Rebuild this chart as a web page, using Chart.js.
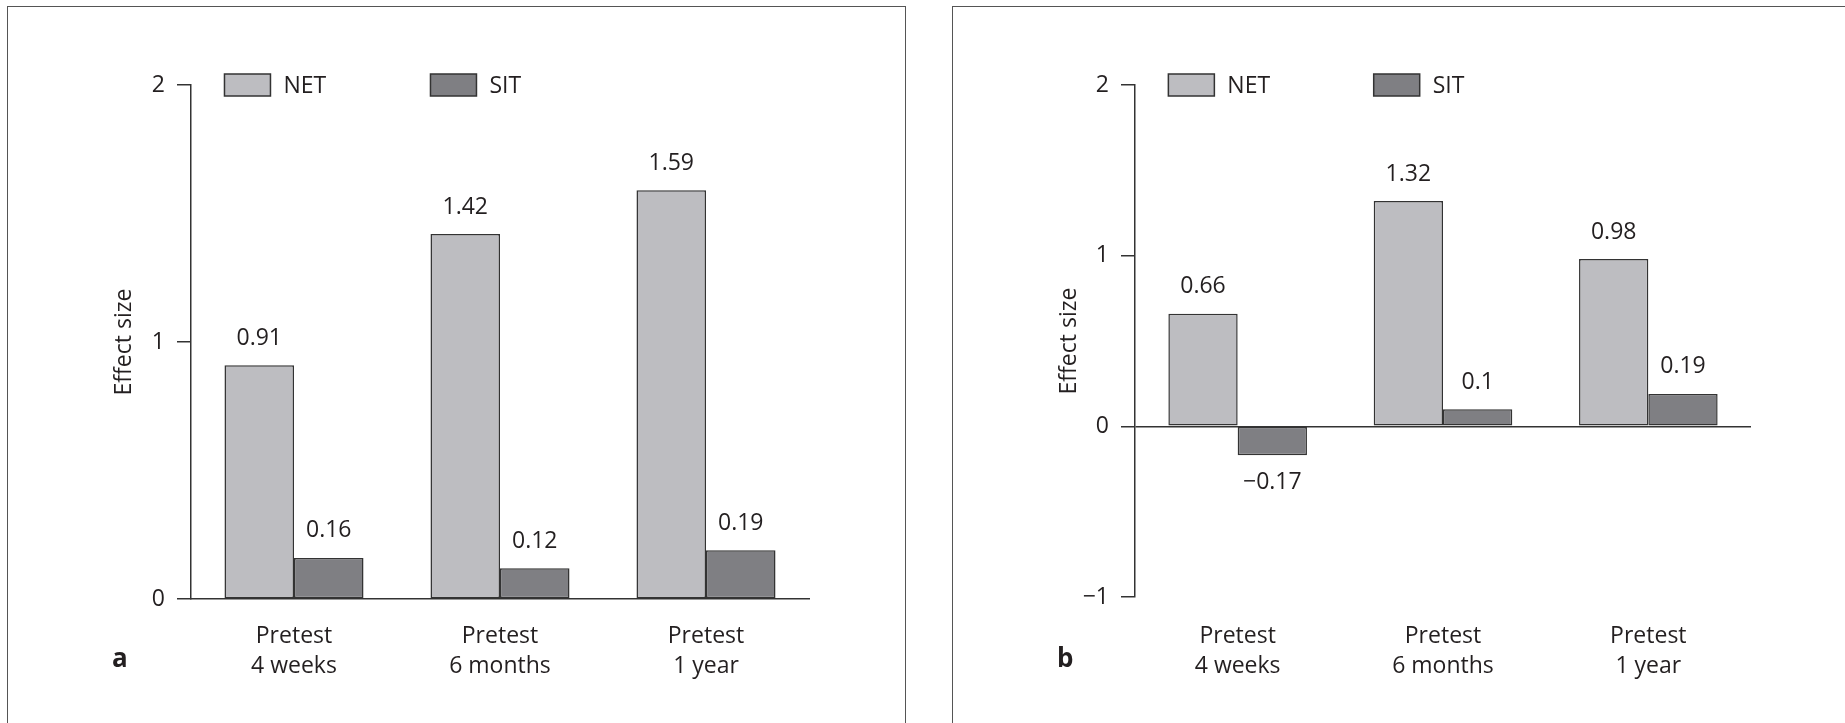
<!DOCTYPE html>
<html>
<head>
<meta charset="utf-8">
<script src="https://cdn.jsdelivr.net/npm/chart.js@4"></script>
<style>
  html, body { margin: 0; padding: 0; background: #fff; overflow: hidden; }
  body { width: 1845px; height: 723px; position: relative; }
  .frame { position: absolute; top: 6px; height: 800px; border: 1.5px solid #555; box-sizing: border-box; }
  canvas { position: absolute; top: 0; }
</style>
</head>
<body>
<div class="frame" style="left:7px; width:899px;"></div>
<div class="frame" style="left:952px; width:1000px;"></div>
<canvas id="chartA" width="925" height="723" style="left:0"></canvas>
<canvas id="chartB" width="920" height="723" style="left:925px"></canvas>
<script>
// Data
const categories = [["Pretest", "4 weeks"], ["Pretest", "6 months"], ["Pretest", "1 year"]];
const seriesNames = ["NET", "SIT"];
const netA = [0.91, 1.42, 1.59];
const sitA = [0.16, 0.12, 0.19];
const netB = [0.66, 1.32, 0.98];
const sitB = [-0.17, 0.10, 0.19];
const rangeA = [0, 2];
const rangeB = [-1, 2];

const FONT = "'Open Sans', 'Noto Sans', sans-serif";
const INK = "#231f20";
const NET_FILL = "#bdbdc1";
const SIT_FILL = "#7f7f83";
const EDGE = "#333333";

function fmt(v) {
    return v < 0 ? "\u2212" + String(Math.abs(v)) : String(v);
}

// Draws value labels, the legend row and the panel letter
const extras = {
    id: "extras",
    afterDatasetsDraw(chart, args, opts) {
        const ctx = chart.ctx;
        ctx.save();
        ctx.fillStyle = INK;
        ctx.font = "23px " + FONT;
        ctx.textAlign = "center";
        ctx.textBaseline = "middle";
        chart.data.datasets.forEach((ds, i) => {
            chart.getDatasetMeta(i).data.forEach((bar, j) => {
                const v = ds.data[j];
                const y = v >= 0 ? bar.y - 27 : bar.y + 27;
                ctx.fillText(fmt(v), bar.x, y);
            });
        });

        // legend: each swatch sits over the left edge of a NET bar
        const top = chart.chartArea.top;
        const netBars = chart.getDatasetMeta(0).data;
        chart.data.datasets.forEach((ds, i) => {
            const bar = netBars[i];
            const x = bar.x - bar.width / 2;
            ctx.fillStyle = ds.backgroundColor;
            ctx.fillRect(x, top - 11, 46, 22);
            ctx.strokeStyle = EDGE;
            ctx.lineWidth = 1.5;
            ctx.strokeRect(x, top - 11, 46, 22);
            ctx.fillStyle = INK;
            ctx.textAlign = "left";
            ctx.fillText(ds.label, x + 59, top + 1);
        });

        ctx.font = "bold 26px " + FONT;
        ctx.textBaseline = "alphabetic";
        ctx.fillText(opts.letter, opts.letterX, 667);
        ctx.restore();
    }
};

function makeChart(id, net, sit, range, cfg) {
    const zeroLine = cfg.zeroLine;
    return new Chart(document.getElementById(id), {
        type: "bar",
        data: {
            labels: categories,
            datasets: [
                { label: seriesNames[0], data: net, backgroundColor: NET_FILL },
                { label: seriesNames[1], data: sit, backgroundColor: SIT_FILL }
            ]
        },
        options: {
            responsive: false,
            animation: false,
            devicePixelRatio: 1,
            layout: { padding: { top: 85, right: cfg.padRight, bottom: 0, left: 0 } },
            datasets: {
                bar: {
                    categoryPercentage: 0.675,
                    barPercentage: 1.0,
                    borderColor: EDGE,
                    borderWidth: 1.5,
                    borderSkipped: false
                }
            },
            plugins: {
                legend: { display: false },
                tooltip: { enabled: false },
                extras: { letter: cfg.letter, letterX: cfg.letterX }
            },
            scales: {
                x: {
                    grid: { display: false },
                    border: { display: !zeroLine, color: EDGE, width: 1.5 },
                    ticks: {
                        color: INK,
                        font: { family: FONT, size: 23, lineHeight: 1.3 },
                        padding: cfg.xPad,
                        maxRotation: 0
                    },
                    afterFit: (s) => { s.height = cfg.xHeight; }
                },
                y: {
                    min: range[0],
                    max: range[1],
                    grid: {
                        drawOnChartArea: zeroLine,
                        color: (c) => (c.tick && c.tick.value === 0 ? EDGE : "rgba(0,0,0,0)"),
                        tickColor: EDGE,
                        lineWidth: 1.5,
                        tickLength: 14
                    },
                    border: { display: true, color: EDGE, width: 1.5 },
                    ticks: {
                        stepSize: 1,
                        color: INK,
                        padding: 12,
                        font: { family: FONT, size: 23 },
                        callback: (v) => fmt(v)
                    },
                    title: {
                        display: true,
                        text: "Effect size",
                        color: INK,
                        font: { family: FONT, size: 23 },
                        padding: { top: cfg.titleX - 13.8, bottom: 0 }
                    },
                    afterFit: (s) => { s.width = cfg.yWidth; }
                }
            }
        },
        plugins: [extras]
    });
}

makeChart("chartA", netA, sitA, rangeA, {
    zeroLine: false, padRight: 116, yWidth: 191, xHeight: 124, xPad: 15,
    titleX: 124.5, letter: "a", letterX: 112
});
makeChart("chartB", netB, sitB, rangeB, {
    zeroLine: true, padRight: 94, yWidth: 210, xHeight: 126, xPad: 17,
    titleX: 144.5, letter: "b", letterX: 132
});
</script>
</body>
</html>
